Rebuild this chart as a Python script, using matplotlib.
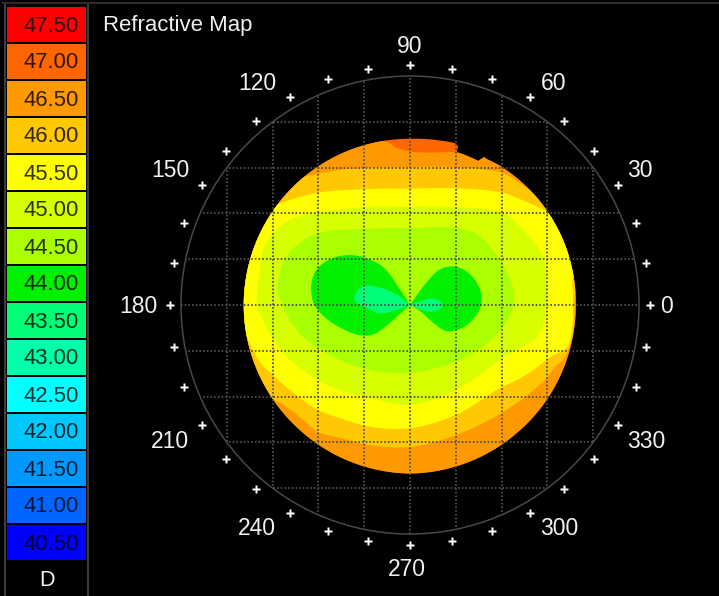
import numpy as np
import matplotlib
matplotlib.use('Agg')
import matplotlib.pyplot as plt
from matplotlib.patches import Circle, Polygon

plt.rcParams['font.family'] = ['Liberation Sans', 'DejaVu Sans']

# colour scale, top to bottom
levels = ['47.50', '47.00', '46.50', '46.00', '45.50', '45.00', '44.50', '44.00',
          '43.50', '43.00', '42.50', '42.00', '41.50', '41.00', '40.50']
level_colors = ['#ff0000', '#ff6600', '#ff9900', '#ffc800', '#ffff00', '#d8ff00', '#aaff00', '#00f000',
                '#00ff77', '#00ffaa', '#00ffff', '#00c8ff', '#0099ff', '#0066ff', '#0000ff']
unit = 'D'
title = 'Refractive Map'
angles = [0, 30, 60, 90, 120, 150, 180, 210, 240, 270, 300, 330]

# edge of the measured disc, mm (theta deg, r), notch top right
edge_t = [0, 20, 40, 55.8, 57.1, 62.2, 63.4, 64.7, 71, 73, 73.2, 74.5, 80, 90, 110, 130, 150, 170,
          190, 210, 230, 250, 270, 290, 310, 330, 350, 360]
edge_r = [3.62, 3.63, 3.63, 3.62, 3.62, 3.60, 3.61, 3.48, 3.49, 3.49, 3.63, 3.67, 3.65, 3.63, 3.63,
          3.63, 3.63, 3.63, 3.63, 3.63, 3.64, 3.66, 3.68, 3.66, 3.64, 3.63, 3.62, 3.62]

# iso lines, mm, each one holds everything below that level
# points past r=3.65 are off the disc, only there to close the shape
c470_x = [-5, -0.59, -0.28, 0.11, 0.98, 1.40, 5, 5, -5]
c470_y = [3.0, 3.58, 3.43, 3.34, 3.34, 3.34, 3.34, -5, -5]
c465_x = [-4, -2.8, -2.36, -2.03, -1.53, -0.98, 0, 0.98, 2.03, 2.40, 2.69, 3.1, 4, 5, 5, 3.75, 3.62, 3.56, 3.38, 3.17, 2.90, 2.03, 1.0, 0,
          -0.87, -1.53, -2.01, -2.25, -2.69, -3.05, -3.5, -5, -5]
c465_y = [2.4, 2.65, 2.79, 2.86, 2.95, 2.99, 3.01, 3.01, 2.88, 2.66, 2.45, 2.1, 1.5, 1.0, 0.7, 0.6, 0.33, -0.61, -1.14, -1.35, -1.68, -2.34, -2.84, -3.10,
          -3.06, -2.90, -2.77, -2.58, -2.23, -2.02, -1.75, -1.0, 2.4]
c460_x = [-4, -3.3, -2.86, -2.01, -0.98, 0, 1.0, 2.03, 2.45, 3.01, 3.5, 5, 5, 3.75, 3.56, 3.56, 3.54, 3.43, 3.06, 2.69, 2.25, 1.97, 1.0, 0,
          -0.87, -1.53, -2.01, -2.62, -2.99, -3.28, -3.54, -3.8, -5, -5]
c460_y = [1.7, 2.0, 2.21, 2.45, 2.53, 2.54, 2.55, 2.45, 2.29, 2.03, 1.75, 1.2, 1.0, 0.95, 0.6, 0.11, -0.48, -0.92, -1.14, -1.42, -1.68, -1.81, -2.40, -2.69,
          -2.66, -2.47, -2.29, -1.86, -1.53, -1.24, -0.76, -0.3, 0.5, 1.7]
c455_x = [-3.34, -3.28, -3.21, -3.01, -2.62, -2.01, -0.98, 0, 1, 2.03, 2.47, 2.84, 2.95, 2.99, 2.95, 2.77, 2.34, 2.03, 1, 0,
          -0.87, -1.53, -2.01, -2.62, -3.01, -3.21]
c455_y = [-0.02, 0.76, 1.20, 1.53, 1.86, 2.01, 2.14, 2.14, 2.14, 2.01, 1.64, 1.20, 0.83, 0.26, -0.26, -0.70, -0.98, -1.16, -1.86, -2.18,
          -2.03, -1.86, -1.64, -1.20, -0.70, -0.33]
c450_x = [-2.79, -2.88, -2.77, -2.47, -2.01, -0.98, 0, 1, 1.45, 1.85, 2.15, 2.27, 2.23, 2.03, 1.57, 1, 0, -0.87, -1.53, -2.01, -2.34, -2.62]
c450_y = [0, 0.39, 0.92, 1.31, 1.57, 1.66, 1.68, 1.68, 1.55, 1.15, 0.65, 0.26, -0.11, -0.48, -0.92, -1.24, -1.48, -1.42, -1.20, -0.94, -0.70, -0.33]
c445l_x = [0, -0.22, -0.58, -0.98, -1.31, -1.67, -2, -2.15, -2.11, -1.89, -1.53, -1.09, -0.80, -0.44, -0.15]
c445l_y = [0, 0.34, 0.82, 1.03, 1.09, 1.03, 0.82, 0.49, 0.05, -0.24, -0.49, -0.66, -0.64, -0.39, -0.13]
c445r_x = [0, 0.36, 0.66, 0.98, 1.31, 1.53, 1.56, 1.46, 1.16, 0.80, 0.51, 0.22]
c445r_y = [0, 0.49, 0.78, 0.84, 0.67, 0.34, 0.05, -0.20, -0.49, -0.57, -0.39, -0.13]
c440l_x = [0, -0.29, -0.66, -1.02, -1.20, -1.20, -0.95, -0.66, -0.29]
c440l_y = [0, 0.23, 0.38, 0.41, 0.23, 0.09, -0.06, -0.18, -0.11]
c440r_x = [0, 0.25, 0.51, 0.69, 0.69, 0.44, 0.18]
c440r_y = [0, 0.09, 0.14, 0.05, -0.06, -0.15, -0.08]


def smooth(x, y, tip=False, n=10):
    # closed catmull-rom through the read points
    p = np.c_[x, y]
    d = np.sqrt(np.hypot(*(np.roll(p, -1, axis=0) - p).T))
    dp = d[:, None]
    slope = (np.roll(p, -1, axis=0) - p) / dp
    m = (np.roll(slope, 1, axis=0)*dp + slope*np.roll(dp, 1, axis=0)) / (dp + np.roll(dp, 1, axis=0))
    if tip:
        m[0] = 0
    out = []
    for i in range(len(p)):
        j = (i + 1) % len(p)
        t = np.linspace(0, 1, n, endpoint=False)[:, None]
        out.append((2*t**3 - 3*t**2 + 1)*p[i] + (t**3 - 2*t**2 + t)*d[i]*m[i]
                   + (-2*t**3 + 3*t**2)*p[j] + (t**3 - t**2)*d[i]*m[j])
    return np.vstack(out)


fig = plt.figure(figsize=(7.19, 5.96), dpi=100, facecolor='black')

# map axes, mm, 45.8 px per mm, centre at 410,305
s = 45.8
ax = fig.add_axes([0, 0, 1, 1], facecolor='black')
ax.set_xlim(-410/s, (719-410)/s)
ax.set_ylim((305-596)/s, 305/s)
ax.axis('off')

th_deg = np.union1d(np.arange(0, 360, 1.0), edge_t)
rr = np.interp(th_deg, edge_t, edge_r)
th = np.radians(th_deg)
disc = Polygon(np.c_[rr*np.cos(th), rr*np.sin(th)], fc=level_colors[1], ec='none')
ax.add_patch(disc)
bands = [(c470_x, c470_y, 2, False), (c465_x, c465_y, 3, False), (c460_x, c460_y, 4, False), (c455_x, c455_y, 5, False),
         (c450_x, c450_y, 6, False), (c445l_x, c445l_y, 7, True), (c445r_x, c445r_y, 7, True),
         (c440l_x, c440l_y, 8, True), (c440r_x, c440r_y, 8, True)]
for bx, by, c, tip in bands:
    p = Polygon(smooth(bx, by, tip), fc=level_colors[c], ec='none')
    ax.add_patch(p)
    p.set_clip_path(disc)

ring = Circle((0, 0), 5, fc='none', ec='#484848', lw=1.1)
ax.add_patch(ring)
for k in range(-4, 5):
    for l in [ax.plot([k, k], [-5, 5], color='#505048', lw=1.4, ls=(0, (0.8, 1.1)))[0],
              ax.plot([-5, 5], [k, k], color='#505048', lw=1.4, ls=(0, (0.8, 1.1)))[0]]:
        l.set_clip_path(ring)

# ticks every 10 degrees
tk = np.radians(np.arange(0, 360, 10))
ax.plot(5.24*np.cos(tk), 5.24*np.sin(tk), ls='none', marker='P', ms=5.2, mfc='white', mec='none')

# the labels do not sit on one radius
lab_x = [5.61, 5.02, 3.14, 0, -3.34, -5.24, -5.94, -5.24, -3.34, -0.06, 3.25, 5.15]
lab_y = [0, 2.97, 4.87, 5.68, 4.87, 2.97, 0, -2.95, -4.85, -5.74, -4.85, -2.95]
for a, lx, ly in zip(angles, lab_x, lab_y):
    ax.text(lx, ly - 0.04, str(a), color='#f0f0f0', fontsize=16.5, ha='center', va='center')

# colour scale on the left, pixel rows
cax = fig.add_axes([0, 0, 1, 1], facecolor='none')
cax.set_xlim(0, 719)
cax.set_ylim(596, 0)
cax.axis('off')
rows = np.arange(len(levels))
cax.barh(7 + rows*37 + 17.5, 79, height=35, left=7, color=level_colors)
for i, lab in zip(rows, levels):
    cax.text(79, 7 + i*37 + 19, lab, color='black', alpha=0.8, fontsize=15.9, ha='right', va='center')
cax.text(47, 581, unit, color='#f0f0f0', fontsize=15.5, ha='center', va='center')
cax.text(103, 25, title, color='#f0f0f0', fontsize=15.9, ha='left', va='center')
cax.plot([5, 5], [3, 596], color='#3c3c3c', lw=1.5)
cax.plot([88, 88], [3, 596], color='#3c3c3c', lw=1.5)
cax.plot([3, 719], [3, 3], color='#2c2c2c', lw=1.5)

fig.savefig('out.png', dpi=100, facecolor='black')
